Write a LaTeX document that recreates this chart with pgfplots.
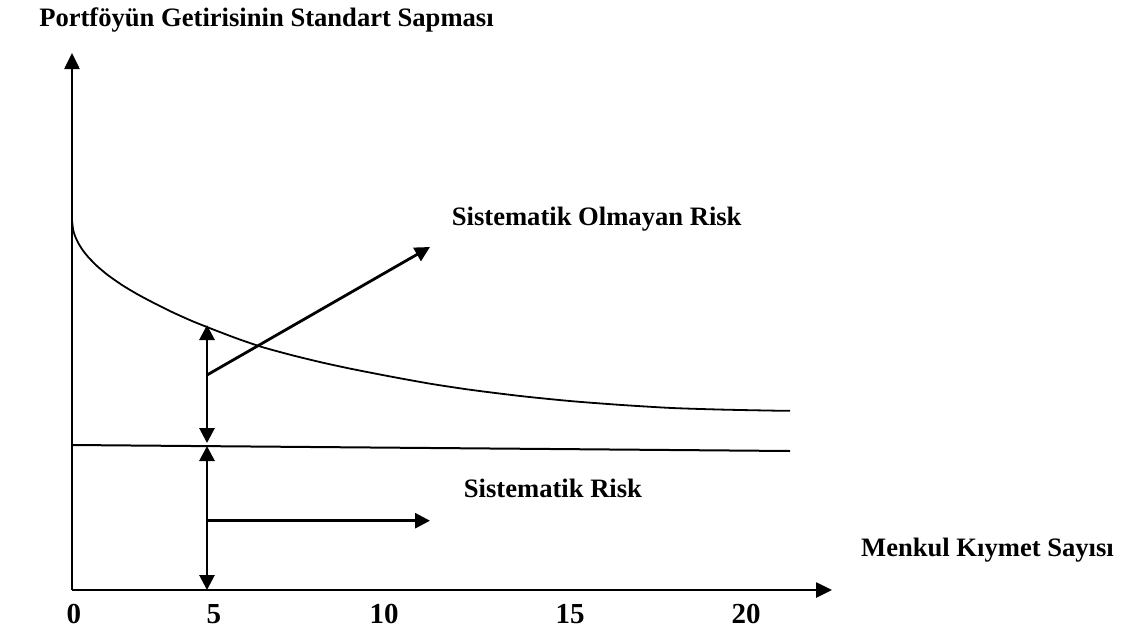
\documentclass[border=0pt]{standalone}
\usepackage{fontspec}
\setmainfont{Liberation Serif}
\usepackage{pgfplots}
\pgfplotsset{compat=1.18}
\usetikzlibrary{arrows.meta}

% x: pixels to the right of the y axis; y: pixels above the x axis
\pgfplotstableread{
x y
0 370
1 361
2 357
4 351.6
7 345.7
11 339.5
16 333.2
25 324
36 314.8
50 305
65 296
80 288
100 278
120 269
140 261
165 251.5
190 243
220 234.8
250 227.5
280 221
320 213.2
360 206
400 200
450 193.8
500 188.8
550 185
600 182
650 180.4
700 179.4
718 179.2
}\curvedata

\pgfplotstableread{
x y
0 145
718 139
}\linedata

\begin{document}
\begin{tikzpicture}
\useasboundingbox (-36pt,-19.5pt) rectangle (526.5pt,295pt);
\begin{axis}[
  at={(0,0)}, anchor=origin,
  x=0.5pt, y=0.5pt,
  xmin=0, xmax=760, ymin=0, ymax=537,
  axis lines=left,
  axis line style={line width=1.3pt, -{Triangle[length=8pt,width=7.5pt]}},
  clip=false,
  ytick=\empty,
  xtick={2,142,312,498,674},
  xticklabels={0,5,10,15,20},
  major tick length=0pt,
  xticklabel style={font=\fontsize{14.5}{16}\selectfont\bfseries, anchor=base, yshift=-16.5pt},
]
\addplot[black, line width=0.9pt, smooth, tension=0.4] table[x=x,y=y] {\curvedata};
\addplot[black, line width=1pt] table[x=x,y=y] {\linedata};
% arrows at 5 securities
\addplot[black, line width=1.4pt, {Triangle[length=7.5pt,width=7.5pt]}-{Triangle[length=7.5pt,width=7.5pt]}] coordinates {(135,147) (135,265)};
\addplot[black, line width=1.4pt, {Triangle[length=7.5pt,width=7.5pt]}-{Triangle[length=7.5pt,width=7.5pt]}] coordinates {(135,0) (135,144)};
\addplot[black, line width=1.4pt, -{Triangle[length=7.5pt,width=7.5pt]}] coordinates {(135,215) (358,343)};
\addplot[black, line width=1.4pt, -{Triangle[length=7.5pt,width=7.5pt]}] coordinates {(135,69.3) (358,69.3)};
\node[anchor=base, font=\fontsize{13.3}{15}\selectfont\bfseries] at (axis cs:194.5,563.3) {Portföyün Getirisinin Standart Sapması};
\node[anchor=base, font=\fontsize{13.3}{15}\selectfont\bfseries] at (axis cs:524.7,364.3) {Sistematik Olmayan Risk};
\node[anchor=base, font=\fontsize{13.3}{15}\selectfont\bfseries] at (axis cs:481,93) {Sistematik Risk};
\node[anchor=base, font=\fontsize{13.3}{15}\selectfont\bfseries] at (axis cs:915.5,33.3) {Menkul Kıymet Sayısı};
\end{axis}
\end{tikzpicture}
\end{document}
